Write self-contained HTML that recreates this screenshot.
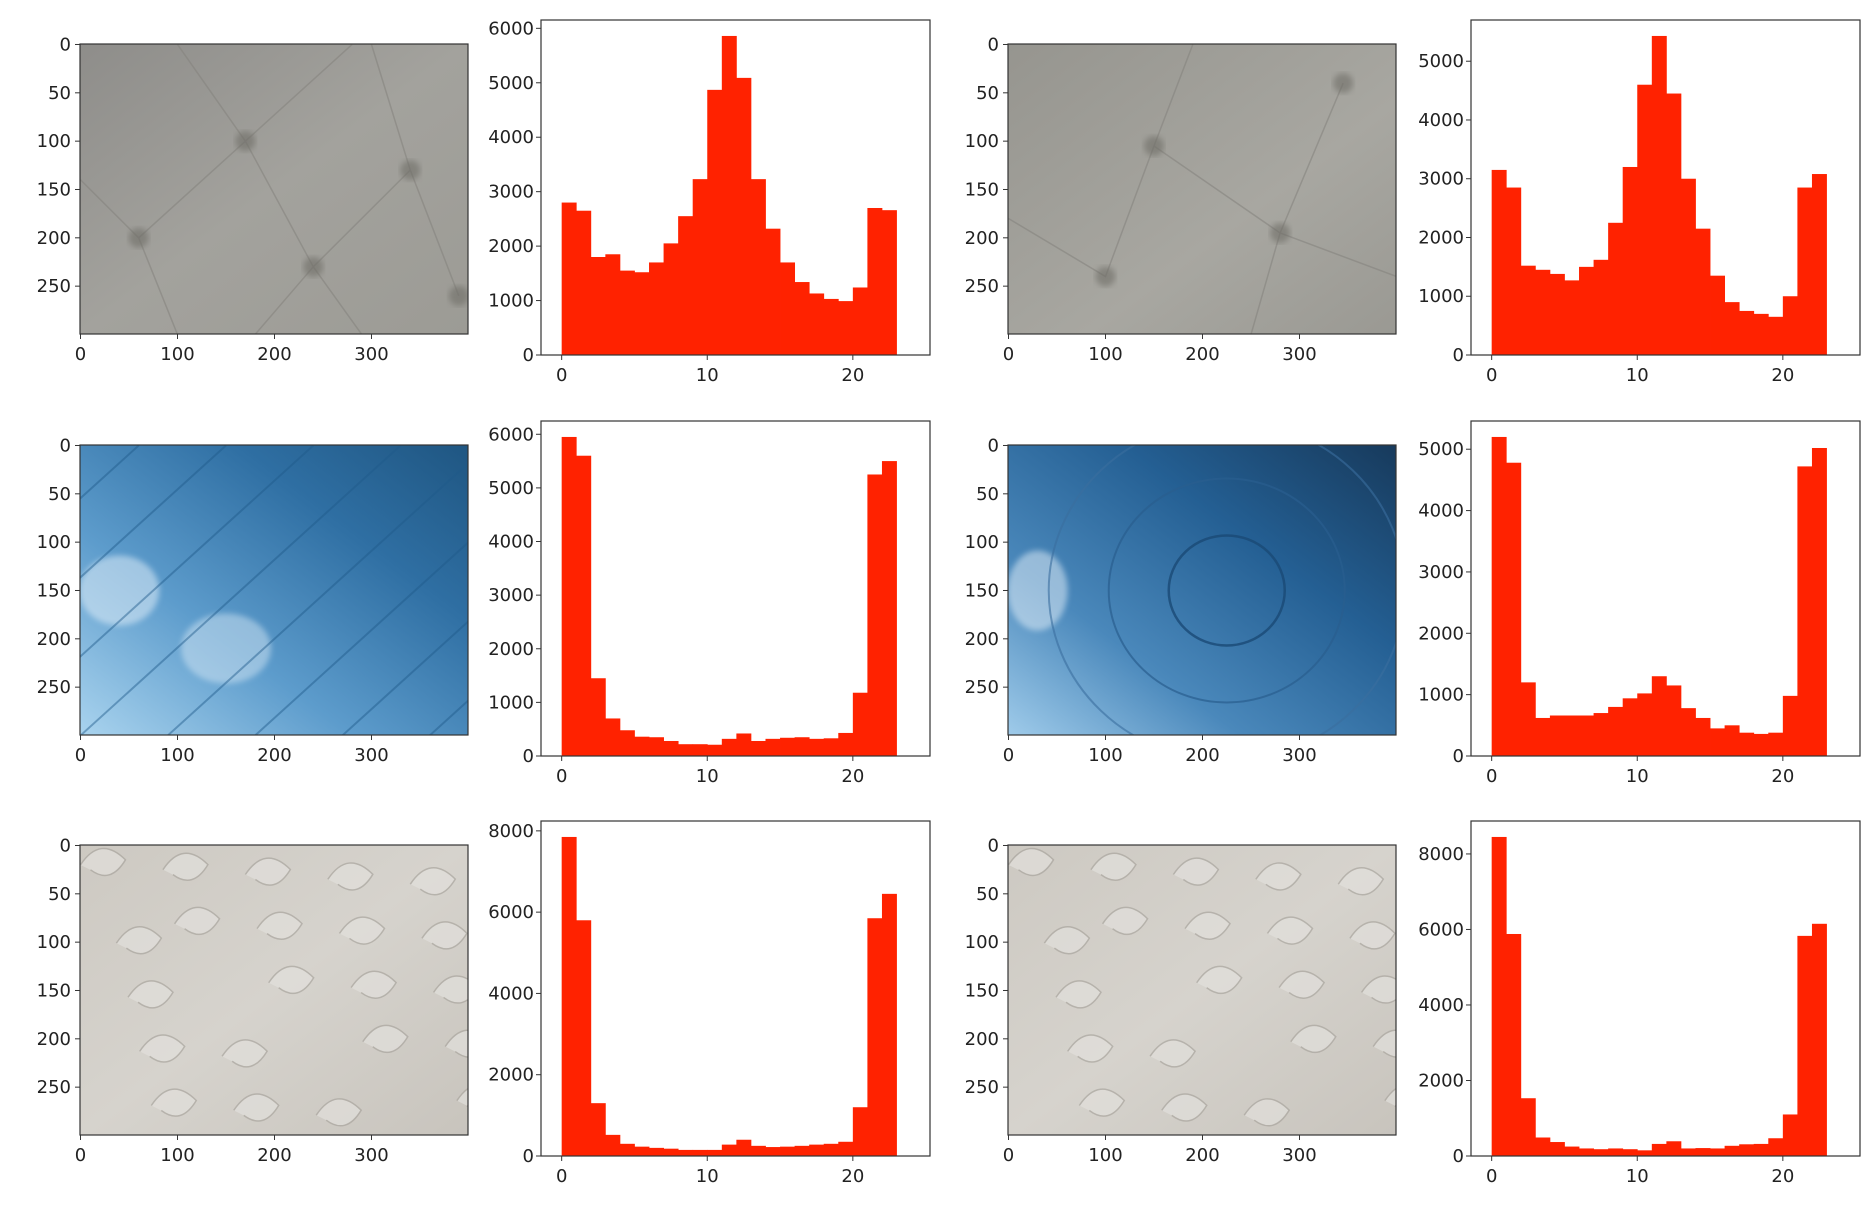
<!DOCTYPE html>
<html><head><meta charset="utf-8">
<style>
html,body{margin:0;padding:0;background:#fff;}
svg{display:block;font-family:"DejaVu Sans","Liberation Sans",sans-serif;}
</style></head>
<body>
<svg id="fig" width="1874" height="1206" viewBox="0 0 1874 1206" xmlns="http://www.w3.org/2000/svg">
<defs>
  <linearGradient id="gGray" x1="0" y1="0" x2="1" y2="1">
    <stop offset="0" stop-color="#8e8d8a"/><stop offset="0.5" stop-color="#a3a29d"/><stop offset="1" stop-color="#9c9b95"/>
  </linearGradient>
  <linearGradient id="gGray2" x1="0" y1="0" x2="1" y2="1">
    <stop offset="0" stop-color="#96958f"/><stop offset="0.6" stop-color="#a8a7a1"/><stop offset="1" stop-color="#9a9993"/>
  </linearGradient>
  <linearGradient id="gBlue1" x1="0" y1="1" x2="1" y2="0">
    <stop offset="0" stop-color="#a9d3ee"/><stop offset="0.35" stop-color="#5d9ccc"/><stop offset="0.7" stop-color="#2f6fa3"/><stop offset="1" stop-color="#1f5682"/>
  </linearGradient>
  <linearGradient id="gBlue2" x1="0" y1="1" x2="1" y2="0">
    <stop offset="0" stop-color="#9fcbea"/><stop offset="0.3" stop-color="#4a88bb"/><stop offset="0.65" stop-color="#245f93"/><stop offset="1" stop-color="#173a5c"/>
  </linearGradient>
  <linearGradient id="gBeige" x1="0" y1="0" x2="1" y2="1">
    <stop offset="0" stop-color="#cdc9c2"/><stop offset="0.5" stop-color="#d6d3cd"/><stop offset="1" stop-color="#c8c4bd"/>
  </linearGradient>
  <filter id="soft"><feGaussianBlur stdDeviation="3"/></filter>
</defs>
<g id="root"></g>
</svg>
<script>
// Histogram data (23 bins of width 1, from 0 to 23)
const binEdgesStart = 0;
const histR1C2 = [2800,2650,1800,1850,1550,1520,1700,2050,2550,3230,4870,5860,5090,3230,2320,1700,1340,1130,1030,990,1240,2700,2660];
const histR1C4 = [3150,2850,1520,1450,1380,1270,1500,1620,2250,3200,4600,5430,4450,3000,2150,1350,900,750,700,650,1000,2850,3080];
const histR2C2 = [5950,5600,1450,700,480,360,350,280,220,220,210,320,420,280,320,340,350,320,330,430,1180,5250,5500];
const histR2C4 = [5200,4780,1200,620,660,660,660,700,800,940,1020,1300,1150,780,620,450,500,380,360,380,980,4720,5020];
const histR3C2 = [7850,5800,1300,520,300,230,200,180,150,150,150,280,400,250,220,230,250,280,300,350,1200,5850,6450];
const histR3C4 = [8450,5880,1530,490,370,250,200,180,200,180,150,320,390,200,210,200,270,310,320,470,1100,5830,6150];
const yTicks1000 = [0,1000,2000,3000,4000,5000,6000];
const yTicks2000 = [0,2000,4000,6000,8000];
const xTicksHist = [0,10,20];
const imgXTicks = [0,100,200,300];
const imgYTicks = [0,50,100,150,200,250];

const NS = "http://www.w3.org/2000/svg";
const root = document.getElementById('root');
const defs = document.querySelector('defs');
function mk(tag, attrs, parent){
  const e = document.createElementNS(NS, tag);
  for (const k in attrs) e.setAttribute(k, attrs[k]);
  (parent||root).appendChild(e);
  return e;
}
const FS = 18;
let clipId = 0;

function imagePanel(x0, y0, fill, kind, name){
  const W = 388, H = 290;
  const g = mk('g', {});
  
  
  const sx = v => x0 + (v + 0.5) * W / 400;
  const sy = v => y0 + (v + 0.5) * H / 300;
  const cid = 'clip' + (clipId++);
  const cp = mk('clipPath', {id:cid}, defs);
  mk('rect', {x:x0, y:y0, width:W, height:H}, cp);
  const tg = mk('g', {'clip-path':`url(#${cid})`}, g);
  mk('rect', {x:x0, y:y0, width:W, height:H, fill:fill}, tg);
  if (kind === 'tufted') {
    mk('path', {d:`M${sx(0)} ${sy(140)} L${sx(60)} ${sy(200)} L${sx(170)} ${sy(100)} L${sx(240)} ${sy(230)} L${sx(340)} ${sy(130)} L${sx(390)} ${sy(260)} M${sx(100)} ${sy(0)} L${sx(170)} ${sy(100)} L${sx(280)} ${sy(0)} M${sx(60)} ${sy(200)} L${sx(100)} ${sy(300)} M${sx(240)} ${sy(230)} L${sx(180)} ${sy(300)} M${sx(240)} ${sy(230)} L${sx(290)} ${sy(300)} M${sx(340)} ${sy(130)} L${sx(300)} ${sy(0)}`, stroke:'#85847e', 'stroke-width':1.5, fill:'none', opacity:0.6}, tg);
    const pts = [[60,200],[170,100],[240,230],[340,130],[390,260]];
    for (const p of pts) mk('circle', {cx:sx(p[0]), cy:sy(p[1]), r:10, fill:'#6f6e68', opacity:0.6, filter:'url(#soft)'}, tg);
  } else if (kind === 'tufted2') {
    mk('path', {d:`M${sx(0)} ${sy(180)} L${sx(100)} ${sy(240)} L${sx(150)} ${sy(105)} L${sx(280)} ${sy(195)} L${sx(345)} ${sy(40)} M${sx(150)} ${sy(105)} L${sx(190)} ${sy(0)} M${sx(280)} ${sy(195)} L${sx(400)} ${sy(240)} M${sx(280)} ${sy(195)} L${sx(250)} ${sy(300)}`, stroke:'#85847e', 'stroke-width':1.5, fill:'none', opacity:0.6}, tg);
    const pts = [[100,240],[150,105],[280,195],[345,40]];
    for (const p of pts) mk('circle', {cx:sx(p[0]), cy:sy(p[1]), r:10, fill:'#6f6e68', opacity:0.6, filter:'url(#soft)'}, tg);
  } else if (kind === 'stripes') {
    mk('ellipse', {cx:sx(40), cy:sy(150), rx:40, ry:35, fill:'#e8f3fb', opacity:0.5, filter:'url(#soft)'}, tg);
    mk('ellipse', {cx:sx(150), cy:sy(210), rx:45, ry:35, fill:'#e0eef8', opacity:0.45, filter:'url(#soft)'}, tg);
    for (let i = -3; i < 6; i++) {
      mk('line', {x1:sx(i*90), y1:sy(300), x2:sx(i*90+330), y2:sy(0), stroke:'#1f5a8a', 'stroke-width':2, opacity:0.45}, tg);
    }
  } else if (kind === 'rings') {
    mk('ellipse', {cx:sx(30), cy:sy(150), rx:30, ry:40, fill:'#e8f3fb', opacity:0.5, filter:'url(#soft)'}, tg);
    const cx = sx(225), cy = sy(150);
    mk('ellipse', {cx:cx, cy:cy, rx:58, ry:55, fill:'none', stroke:'#1a4a75', 'stroke-width':2.5, opacity:0.8}, tg);
    mk('ellipse', {cx:cx, cy:cy, rx:118, ry:112, fill:'none', stroke:'#2a5e8e', 'stroke-width':2, opacity:0.7}, tg);
    mk('ellipse', {cx:cx, cy:cy, rx:178, ry:170, fill:'none', stroke:'#3a6e9e', 'stroke-width':2, opacity:0.6}, tg);
  } else {
    for (let i = 0; i < 22; i++) {
      const px = (i*97)%400, py = (i*61+20)%300;
      mk('path', {d:`M${sx(px)} ${sy(py)} q 20 -30 45 -5 q -15 25 -35 10`, stroke:'#aaa69f', 'stroke-width':1.5, fill:'#e2e0dc', opacity:0.7}, tg);
    }
  }
  mk('rect', {x:x0, y:y0, width:W, height:H, fill:'none', stroke:'#333', 'stroke-width':1.2}, g);
  for (const t of imgXTicks) {
    mk('line', {x1:sx(t), y1:y0+H, x2:sx(t), y2:y0+H+5, stroke:'#333'}, g);
    const tx = mk('text', {x:sx(t), y:y0+H+26, 'font-size':FS, 'text-anchor':'middle', fill:'#222'}, g);
    tx.textContent = t;
  }
  for (const t of imgYTicks) {
    mk('line', {x1:x0-5, y1:sy(t), x2:x0, y2:sy(t), stroke:'#333'}, g);
    const tx = mk('text', {x:x0-9, y:sy(t)+6, 'font-size':FS, 'text-anchor':'end', fill:'#222'}, g);
    tx.textContent = t;
  }
}

function histPanel(x0, y0, values, yTicks, name){
  const W = 389, H = 335;
  const g = mk('g', {});
  
  
  const xmin = -1.42, xmax = 25.3;
  const ymax = Math.max(...values) * 1.05;
  const sx = v => x0 + (v - xmin) / (xmax - xmin) * W;
  const sy = v => y0 + H - v / ymax * H;
  mk('rect', {x:x0, y:y0, width:W, height:H, fill:'#fff'}, g);
  values.forEach((v, i) => {
    const r = mk('rect', {x:sx(binEdgesStart+i), y:sy(v), width:sx(binEdgesStart+i+1)-sx(binEdgesStart+i)+0.4, height:sy(0)-sy(v), fill:'#ff2200'}, g);
    
    
  });
  mk('rect', {x:x0, y:y0, width:W, height:H, fill:'none', stroke:'#333', 'stroke-width':1.2}, g);
  for (const t of xTicksHist) {
    mk('line', {x1:sx(t), y1:y0+H, x2:sx(t), y2:y0+H+5, stroke:'#333'}, g);
    const tx = mk('text', {x:sx(t), y:y0+H+26, 'font-size':FS, 'text-anchor':'middle', fill:'#222'}, g);
    tx.textContent = t;
  }
  for (const t of yTicks) {
    if (t > ymax) continue;
    mk('line', {x1:x0-5, y1:sy(t), x2:x0, y2:sy(t), stroke:'#333'}, g);
    const tx = mk('text', {x:x0-7, y:sy(t)+6, 'font-size':FS, 'text-anchor':'end', fill:'#222'}, g);
    tx.textContent = t;
  }
}

const rowImgY = [44, 445, 845];
const rowHistY = [20, 421, 821];
imagePanel(80, rowImgY[0], 'url(#gGray)', 'tufted', 'image-tufted-leather-1');
histPanel(541, rowHistY[0], histR1C2, yTicks1000, 'histogram-row1-left');
imagePanel(1008, rowImgY[0], 'url(#gGray2)', 'tufted2', 'image-tufted-leather-2');
histPanel(1471, rowHistY[0], histR1C4, yTicks1000, 'histogram-row1-right');
imagePanel(80, rowImgY[1], 'url(#gBlue1)', 'stripes', 'image-blue-ball-stripes');
histPanel(541, rowHistY[1], histR2C2, yTicks1000, 'histogram-row2-left');
imagePanel(1008, rowImgY[1], 'url(#gBlue2)', 'rings', 'image-blue-ball-rings');
histPanel(1471, rowHistY[1], histR2C4, yTicks1000, 'histogram-row2-right');
imagePanel(80, rowImgY[2], 'url(#gBeige)', 'floral', 'image-floral-fabric-1');
histPanel(541, rowHistY[2], histR3C2, yTicks2000, 'histogram-row3-left');
imagePanel(1008, rowImgY[2], 'url(#gBeige)', 'floral', 'image-floral-fabric-2');
histPanel(1471, rowHistY[2], histR3C4, yTicks2000, 'histogram-row3-right');
</script>
</body></html>
